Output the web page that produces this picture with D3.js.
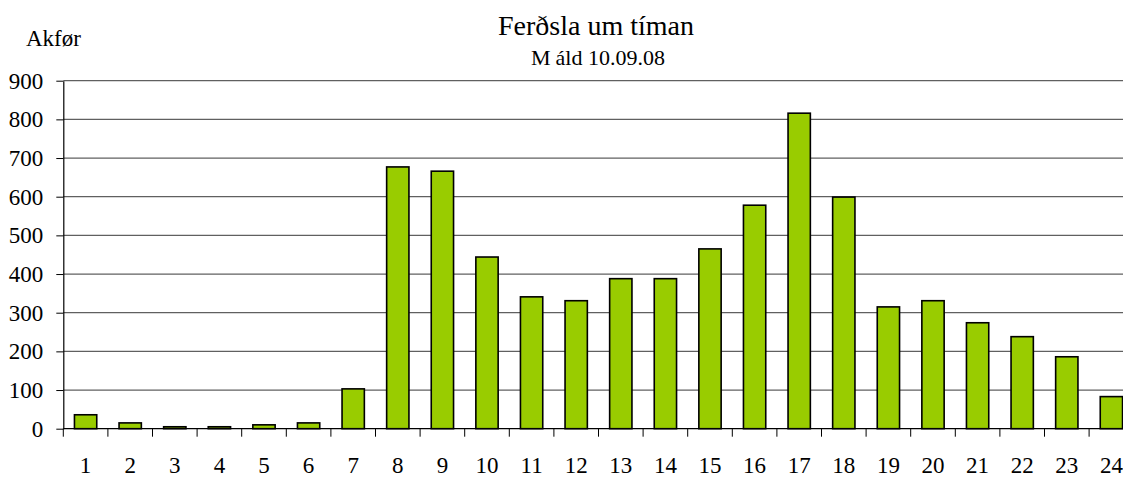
<!DOCTYPE html>
<html lang="is">
<head>
<meta charset="UTF-8">
<title>Ferðsla um tíman</title>
<script src="https://cdnjs.cloudflare.com/ajax/libs/d3/7.8.5/d3.min.js"></script>
<style>
    * { margin: 0; padding: 0; }
    body { background: #fff; overflow: hidden; }
    svg text { font-family: "Liberation Serif", "Times New Roman", serif; fill: #000; }
</style>
</head>
<body>
<svg id="chart" width="1123" height="479"></svg>
<script>
// data
const hours = ["1","2","3","4","5","6","7","8","9","10","11","12","13","14","15","16","17","18","19","20","21","22","23","24"];
const vehicles = [36, 15, 5, 5, 10, 15, 103, 677, 666, 444, 341, 331, 388, 388, 465, 578, 816, 599, 315, 331, 274, 238, 186, 83];
const yTicks = [0, 100, 200, 300, 400, 500, 600, 700, 800, 900];

const svg = d3.select("#chart");
const plotLeft = 63.3, plotRight = 1133.7, plotTop = 80.7, plotBottom = 428.7;

const x = d3.scaleBand().domain(hours).range([plotLeft, plotRight]).paddingInner(0.5).paddingOuter(0.25);
const y = d3.scaleLinear().domain([0, 900]).range([plotBottom, plotTop]);

// gridlines
svg.append("g")
    .selectAll("line")
    .data(yTicks.filter(d => d > 0))
    .join("line")
    .attr("x1", plotLeft).attr("x2", 1123)
    .attr("y1", d => y(d)).attr("y2", d => y(d))
    .attr("stroke", "#606060").attr("stroke-width", 1.2);

// bars
svg.append("g")
    .selectAll("rect")
    .data(vehicles)
    .join("rect")
    .attr("x", (d, i) => x(hours[i]))
    .attr("y", d => y(d))
    .attr("width", x.bandwidth())
    .attr("height", d => plotBottom - y(d))
    .attr("fill", "#99cc00")
    .attr("stroke", "#000")
    .attr("stroke-width", 1.6);

// y axis
const yAxis = svg.append("g")
    .attr("transform", `translate(${plotLeft},0)`)
    .call(d3.axisLeft(y).tickValues(yTicks).tickSize(7).tickPadding(13).tickSizeOuter(0));
yAxis.attr("font-family", null).attr("font-size", null);
yAxis.select(".domain").attr("stroke", "#000").attr("stroke-width", 1.2);
yAxis.selectAll(".tick line").attr("stroke", "#000");
yAxis.selectAll(".tick text").style("font-size", "23px");

// x axis: ticks between categories
const xAxisG = svg.append("g");
xAxisG.append("line")
    .attr("x1", plotLeft).attr("x2", 1123)
    .attr("y1", plotBottom).attr("y2", plotBottom)
    .attr("stroke", "#000").attr("stroke-width", 1.2);
xAxisG.selectAll("line.tk")
    .data(hours)
    .join("line")
    .attr("class", "tk")
    .attr("x1", d => x(d) - x.step() * 0.25)
    .attr("x2", d => x(d) - x.step() * 0.25)
    .attr("y1", plotBottom).attr("y2", plotBottom + 8)
    .attr("stroke", "#000").attr("stroke-width", 1);
xAxisG.selectAll("text")
    .data(hours)
    .join("text")
    .attr("x", d => x(d) + x.bandwidth() / 2)
    .attr("y", 473)
    .attr("text-anchor", "middle")
    .style("font-size", "23px")
    .text(d => d);

// titles
svg.append("text")
    .attr("x", 596).attr("y", 35)
    .attr("text-anchor", "middle")
    .style("font-size", "28px")
    .text("Ferðsla um tíman");
const sub = svg.append("text")
    .attr("x", 598).attr("y", 65)
    .attr("text-anchor", "middle")
    .style("font-size", "22px");
sub.append("tspan").text("M");
sub.append("tspan").attr("dx", 5).text("áld 10.09.08");
svg.append("text")
    .attr("x", 26).attr("y", 46)
    .style("font-size", "23px")
    .text("Akfør");
</script>
</body>
</html>
